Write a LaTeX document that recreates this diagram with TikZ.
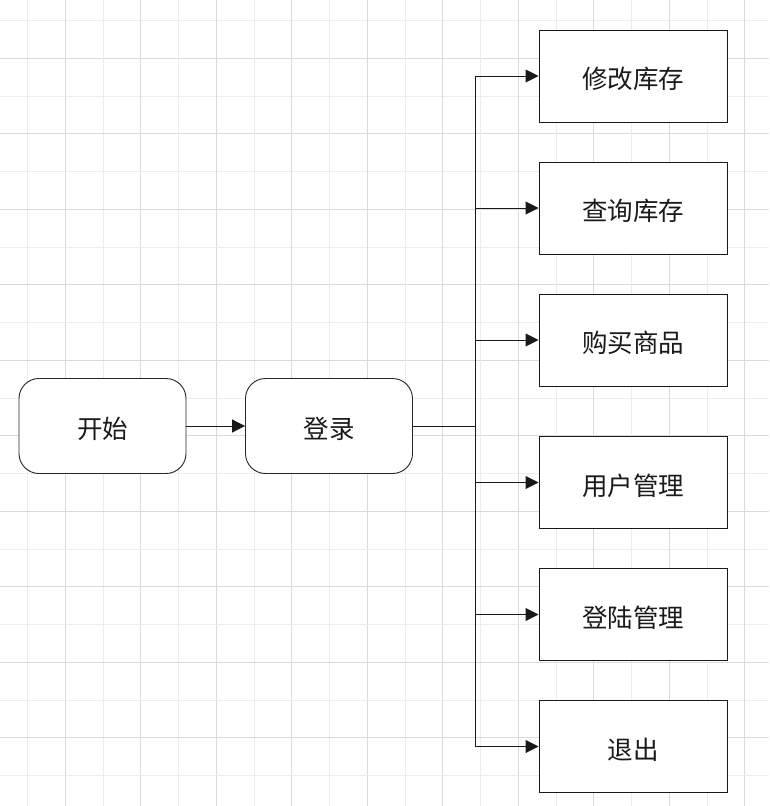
\documentclass[tikz,border=0pt]{standalone}
\usepackage{fontspec}
\newfontfamily\cjk{Noto Sans CJK SC}
\usetikzlibrary{arrows.meta}
\definecolor{gridlight}{RGB}{236,236,236}
\definecolor{griddark}{RGB}{218,218,218}
\definecolor{txt}{RGB}{26,26,26}
\tikzset{
  every node/.style={font=\cjk\fontsize{25.5}{30}\selectfont, text=txt},
  startbox/.style={draw=black!85, line width=0.9pt, rounded corners=20pt, minimum width=167pt, minimum height=95pt, inner sep=0pt},
  funcbox/.style={draw=black!90, line width=1pt, minimum width=188pt, minimum height=92pt, inner sep=0pt},
  lbl/.style={inner sep=0pt},
  conn/.style={draw=black!90, line width=1pt},
  arr/.style={conn, -{Triangle[length=13pt,width=13pt]}},
}
\begin{document}
\begin{tikzpicture}[x=1pt,y=-1pt]
\useasboundingbox (0,0) rectangle (769,806);
% grid
\foreach \i in {0,...,20} {
  \pgfmathsetmacro{\gx}{27.7+37.75*\i}
  \pgfmathsetmacro{\gy}{20.7+37.75*\i}
  \pgfmathtruncatemacro{\odd}{mod(\i,2)}
  \ifnum\odd=1
    \draw[griddark, line width=1pt] (\gx,0) -- (\gx,806);
    \draw[griddark, line width=1pt] (0,\gy) -- (769,\gy);
  \else
    \draw[gridlight, line width=1pt] (\gx,0) -- (\gx,806);
    \draw[gridlight, line width=1pt] (0,\gy) -- (769,\gy);
  \fi
}
% nodes
\node[startbox, fill=white] (start) at (102.5,426) {};
\node[startbox, fill=white] (login) at (329,426) {};
\node[funcbox, fill=white] (f1) at (633,76) {};
\node[funcbox, fill=white] (f2) at (633,208) {};
\node[funcbox, fill=white] (f3) at (633,340) {};
\node[funcbox, fill=white] (f4) at (633,482.5) {};
\node[funcbox, fill=white] (f5) at (633,614.5) {};
\node[funcbox, fill=white] (f6) at (633,746.5) {};
\node[lbl] (tstart) at ([yshift=-3pt]start.center) {开始};
\node[lbl] (tlogin) at ([yshift=-3pt]login.center) {登录};
\node[lbl] (t1) at ([yshift=-3pt]f1.center) {修改库存};
\node[lbl] (t2) at ([yshift=-3pt]f2.center) {查询库存};
\node[lbl] (t3) at ([yshift=-3pt]f3.center) {购买商品};
\node[lbl] (t4) at ([yshift=-3pt]f4.center) {用户管理};
\node[lbl] (t5) at ([yshift=-3pt]f5.center) {登陆管理};
\node[lbl] (t6) at ([yshift=-3pt]f6.center) {退出};
% connectors
\coordinate (trunk) at (475.5,426);
\draw[arr] (start) -- (login);
\draw[conn] (login) -- (trunk);
\draw[conn] (trunk |- f1.west) -- (trunk |- f6.west);
\foreach \f in {f1,f2,f3,f4,f5,f6} {
  \draw[arr] (trunk |- \f.west) -- (\f.west);
}
\end{tikzpicture}
\end{document}
